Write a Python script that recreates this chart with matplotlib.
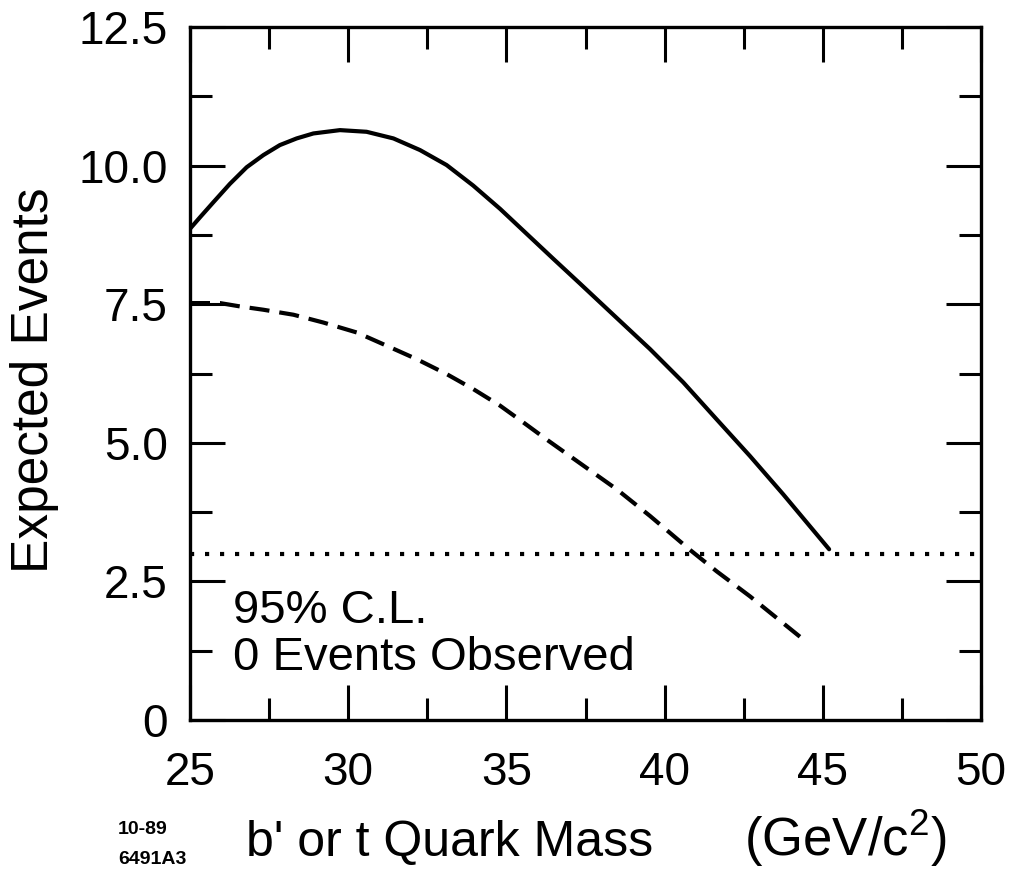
import matplotlib
matplotlib.use("Agg")
import matplotlib.pyplot as plt
from matplotlib.ticker import MultipleLocator, FixedLocator, FixedFormatter

plt.rcParams['font.family'] = ['Liberation Sans', 'DejaVu Sans']
plt.rcParams['mathtext.fontset'] = 'custom'
plt.rcParams['mathtext.rm'] = 'Liberation Sans'

# expected events vs. quark mass (solid)
mass_solid = [25.0, 25.32, 25.74, 26.26, 26.79, 27.32, 27.84, 28.37, 28.9, 29.74,
              30.58, 31.43, 32.27, 33.11, 33.95, 34.8, 35.64, 36.48, 37.33, 38.49,
              39.54, 40.59, 41.65, 42.7, 43.75, 45.2]
events_solid = [8.86, 9.07, 9.34, 9.67, 9.97, 10.19, 10.37, 10.49, 10.58, 10.64,
                10.61, 10.49, 10.28, 10.01, 9.64, 9.22, 8.77, 8.32, 7.87, 7.25,
                6.69, 6.09, 5.42, 4.76, 4.07, 3.08]

# dashed curve
mass_dash = [25.0, 25.95, 26.58, 27.32, 28.27, 29.21, 30.27, 31.22, 32.16, 33.11,
             33.95, 34.8, 35.53, 36.27, 37.33, 38.49, 39.54, 40.8, 41.65, 42.7, 44.39]
events_dash = [7.52, 7.52, 7.46, 7.4, 7.31, 7.17, 6.99, 6.75, 6.51, 6.24,
               5.97, 5.67, 5.37, 5.06, 4.63, 4.16, 3.68, 3.07, 2.68, 2.23, 1.45]

# 95% C.L. limit for 0 observed events
limit_mass = [25.0, 50.0]
limit_events = [3.0, 3.0]

x_ticks = [25, 30, 35, 40, 45, 50]
y_ticks = [0, 2.5, 5.0, 7.5, 10.0, 12.5]
y_tick_labels = ['0', '2.5', '5.0', '7.5', '10.0', '12.5']

fig = plt.figure(figsize=(10.13, 8.74), dpi=100)
ax = fig.add_axes([190 / 1013, 1 - 720 / 874, 791 / 1013, 693 / 874])

ax.plot(mass_solid, events_solid, color='black', lw=3.0, solid_capstyle='round',
        solid_joinstyle='round')
ax.plot(mass_dash, events_dash, color='black', lw=3.0, linestyle=(0, (4.8, 2.4)))
ax.plot(limit_mass, limit_events, color='black', lw=3.0, linestyle=(0, (1.0, 2.6)))

ax.set_xlim(25, 50)
ax.set_ylim(0, 12.5)

ax.xaxis.set_major_locator(FixedLocator(x_ticks))
ax.xaxis.set_minor_locator(MultipleLocator(2.5))
ax.yaxis.set_major_locator(FixedLocator(y_ticks))
ax.yaxis.set_major_formatter(FixedFormatter(y_tick_labels))
ax.yaxis.set_minor_locator(MultipleLocator(1.25))

ax.tick_params(which='both', direction='in', top=True, right=True, width=2.2, colors='black')
ax.tick_params(which='major', length=25)
ax.tick_params(which='minor', length=16)
ax.tick_params(axis='x', which='major', pad=22, labelsize=33)
ax.tick_params(axis='y', which='major', pad=16, labelsize=33)
for s in ax.spines.values():
    s.set_linewidth(2.4)

ax.set_ylabel('Expected Events', fontsize=37)
ax.yaxis.set_label_coords(-0.166, 0.49)

ax.text(26.35, 1.75, '95% C.L.', fontsize=34, va='baseline', ha='left')
ax.text(26.35, 0.9, '0 Events Observed', fontsize=34, va='baseline', ha='left')

fig.text(450 / 1013, 1 - 843 / 874, "b' or t Quark Mass", fontsize=36, ha='center', va='center')
fig.text(845 / 1013, 1 - 838 / 874, '(GeV/c$^2$)', fontsize=38, ha='center', va='center')
fig.text(118 / 1013, 1 - 830 / 874, '10-89', fontsize=14, fontweight='bold', ha='left', va='center')
fig.text(118 / 1013, 1 - 860 / 874, '6491A3', fontsize=14, fontweight='bold', ha='left', va='center')

fig.savefig('out.png', dpi=100)
